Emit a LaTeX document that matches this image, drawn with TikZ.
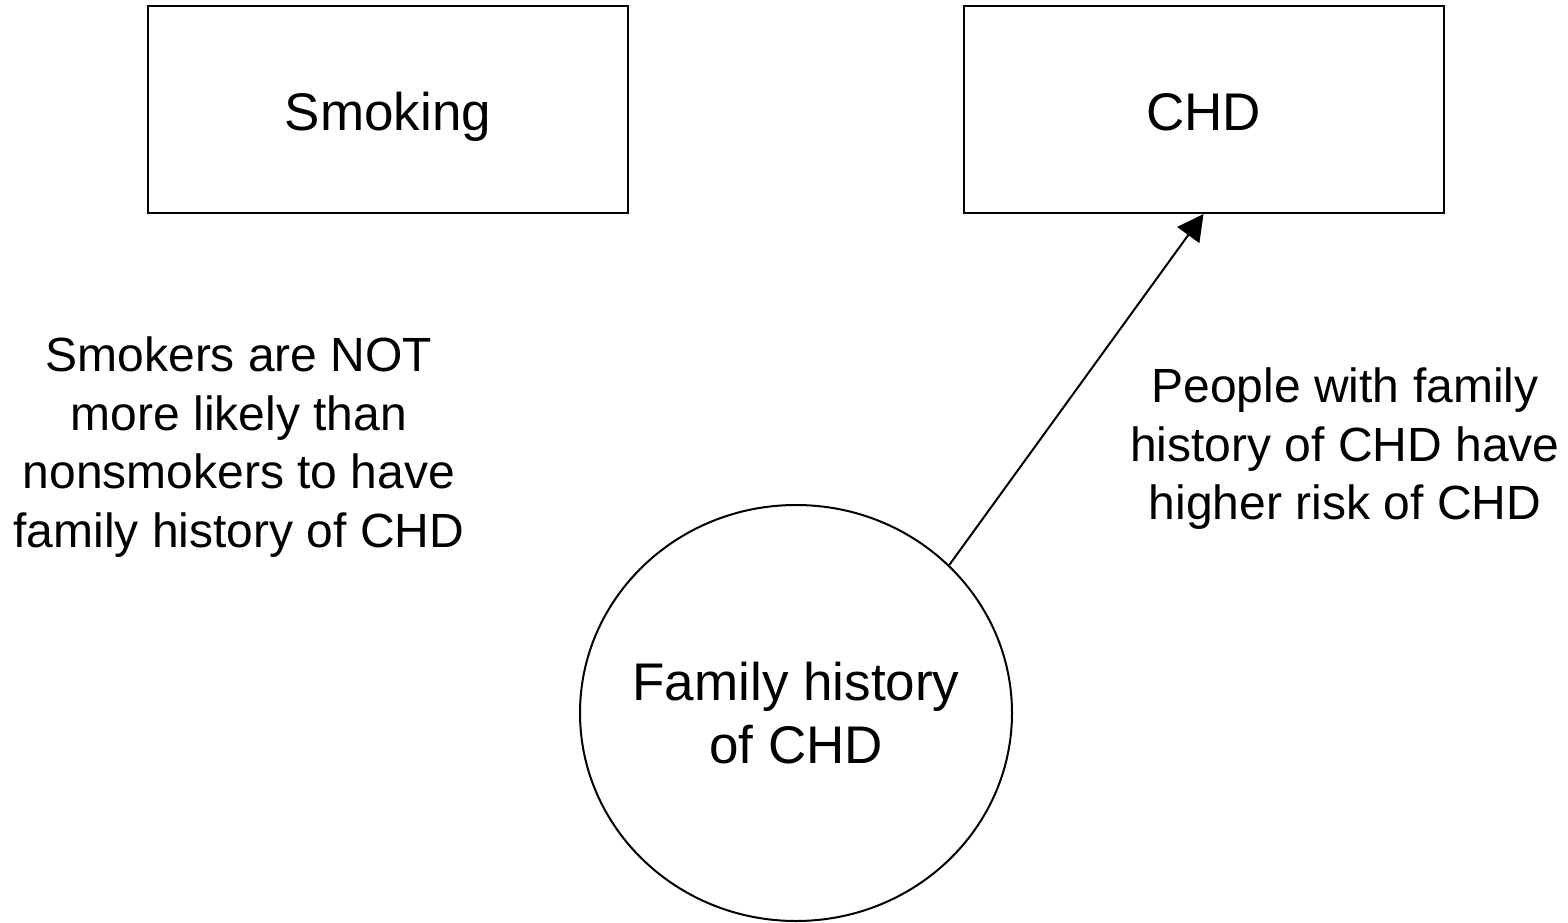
\documentclass[tikz,border=0pt]{standalone}
\usepackage{fontspec}
\setmainfont{Liberation Sans}
\usetikzlibrary{shapes.geometric,arrows.meta}

\tikzset{
  varbox/.style={draw=black, line width=2pt, rectangle, minimum width=480pt,
    minimum height=207pt, inner sep=0pt, text height=50pt, text depth=8pt,
    font=\fontsize{53}{64}\selectfont},
  varcircle/.style={draw=black, line width=2pt, ellipse, minimum width=432pt,
    minimum height=416pt, inner sep=0pt},
  circletext/.style={align=center, inner sep=0pt,
    font=\fontsize{53}{63}\selectfont},
  note/.style={align=center, inner sep=0pt, font=\fontsize{48}{58.5}\selectfont},
  causal/.style={line width=2pt, -{Triangle[length=26pt,width=27pt]}}
}

\begin{document}
\begin{tikzpicture}[x=1pt, y=-1pt]
  \useasboundingbox (0,0) rectangle (1568,923);

  % exposure and outcome
  \node[varbox] (smoke) at (388,109.5) {Smoking};
  \node[varbox] (chd) at (1203.5,109.5) {CHD};

  % candidate confounder
  \node[varcircle] (fam) at (796,713) {};
  \node[circletext] (famlabel) at (fam.center) {Family history\\of CHD};

  % explanatory notes
  \node[note] (leftnote) at (239,447) {Smokers are NOT\\more likely than\\nonsmokers to have\\family history of CHD};
  \node[note] (rightnote) at (1345,449) {People with family\\history of CHD have\\higher risk of CHD};

  % association with the outcome only
  \draw[causal] (fam.44) -- (chd.south);
\end{tikzpicture}
\end{document}
